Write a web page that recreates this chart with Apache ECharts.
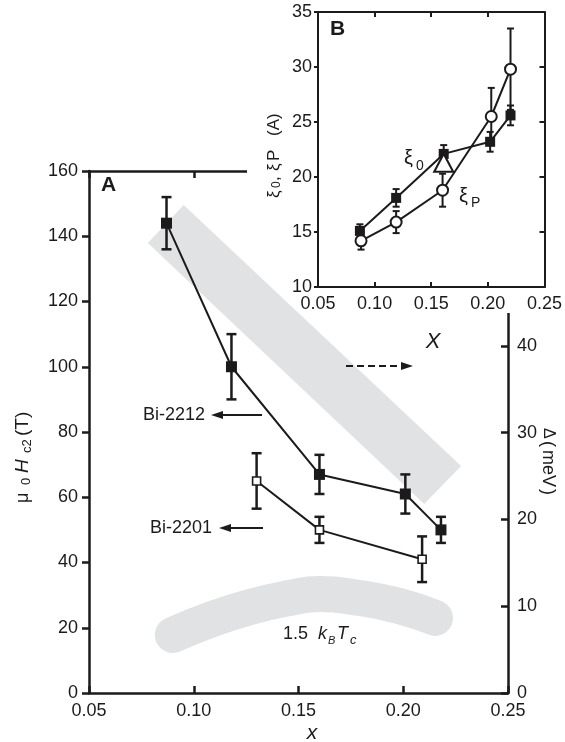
<!DOCTYPE html>
<html><head><meta charset="utf-8">
<script src="https://cdn.jsdelivr.net/npm/echarts@6/dist/echarts.min.js"></script>
<style>html,body{margin:0;padding:0;background:#fff}#c{width:565px;height:742px}</style>
</head><body><div id="c"></div>
<script>
// ---------- Panel A (main) ----------
const mainXTicks = [0.05, 0.10, 0.15, 0.20, 0.25];
const hc2LeftTicks = [0, 20, 40, 60, 80, 100, 120, 140, 160];
const gapRightTicks = [0, 10, 20, 30, 40];
// Bi-2212 (filled squares), mu0 Hc2 (T)
const bi2212X = [0.087, 0.118, 0.160, 0.201, 0.218];
const bi2212Y = [144, 100, 67, 61, 50];
const bi2212Err = [8, 10, 6, 6, 4];
// Bi-2201 (open squares)
const bi2201X = [0.130, 0.160, 0.209];
const bi2201Y = [65, 50, 41];
const bi2201Err = [8.5, 4, 7];
// Gap band (right axis, meV): upper edge and lower edge
const gapBandUpperX = [0.0952, 0.2276];
const gapBandUpperY = [56.25, 26.17];
const gapBandLowerX = [0.0781, 0.2100];
const gapBandLowerY = [51.87, 21.79];
// 1.5 kB Tc band (right axis, meV)
const kTcX = [0.090, 0.1076, 0.1267, 0.1457, 0.160, 0.179, 0.1981, 0.2152];
const kTcY = [6.69, 8.41, 9.91, 10.95, 11.41, 10.95, 10.03, 8.65];

// ---------- Panel B (inset) ----------
const insetXTicks = [0.05, 0.10, 0.15, 0.20, 0.25];
const insetYTicks = [10, 15, 20, 25, 30, 35];
const xi0X = [0.087, 0.119, 0.161, 0.202, 0.220];
const xi0Y = [15.1, 18.1, 22.1, 23.2, 25.6];
const xi0Err = [0.6, 0.8, 0.8, 0.9, 0.9];
const xiPX = [0.088, 0.119, 0.160, 0.203, 0.220];
const xiPY = [14.2, 15.9, 18.8, 25.5, 29.8];
const xiPErr = [0.8, 1.0, 1.5, 2.6, 3.7];
const triX = [0.161];
const triY = [21.3];

const INK = '#1c1a1b';
const GRAY = '#e1e2e4';
const FONT = '"Liberation Sans", Arial, Helvetica, sans-serif';

const zip2 = (xs, ys) => xs.map((x, i) => [x, ys[i]]);
const zip3 = (xs, ys, es) => xs.map((x, i) => [x, ys[i], es[i]]);

function errRender(capHalf, lw) {
  return function (params, api) {
    const x = api.value(0), y = api.value(1), e = api.value(2);
    const top = api.coord([x, y + e]), bot = api.coord([x, y - e]);
    const cx = top[0];
    const style = { stroke: INK, lineWidth: lw, fill: null };
    return { type: 'group', children: [
      { type: 'line', shape: { x1: cx, y1: top[1], x2: cx, y2: bot[1] }, style },
      { type: 'line', shape: { x1: cx - capHalf, y1: top[1], x2: cx + capHalf, y2: top[1] }, style },
      { type: 'line', shape: { x1: cx - capHalf, y1: bot[1], x2: cx + capHalf, y2: bot[1] }, style }
    ]};
  };
}

const fmt2 = v => v.toFixed(2);
const axisBase = (lw) => ({
  axisLine: { show: true, onZero: false, lineStyle: { color: INK, width: lw } },
  splitLine: { show: false },
  axisLabel: { color: INK, fontSize: 18, fontFamily: FONT },
});

const chart = echarts.init(document.getElementById('c'), null, { renderer: 'canvas' });

const bandPoly = [
  [gapBandLowerX[0], gapBandLowerY[0]],
  [gapBandUpperX[0], gapBandUpperY[0]],
  [gapBandUpperX[1], gapBandUpperY[1]],
  [gapBandLowerX[1], gapBandLowerY[1]]
];

function txt(x, y, text, size, opts) {
  return Object.assign({ type: 'text', x: x, y: y, z: 100, silent: true,
    style: Object.assign({ text: text, fontSize: size, fontFamily: FONT, fill: INK,
      textAlign: 'left', textVerticalAlign: 'middle' }, (opts && opts.style) || {}) },
    opts && opts.el || {});
}

const option = {
  animation: false,
  backgroundColor: '#fff',
  grid: [
    { left: 89, right: 57, top: 171, bottom: 49 },
    { left: 318, right: 11, top: 12, bottom: 455 }
  ],
  xAxis: [
    Object.assign(axisBase(2.5), { gridIndex: 0, type: 'value', position: 'bottom',
      min: mainXTicks[0], max: mainXTicks[mainXTicks.length - 1], interval: 0.05,
      axisTick: { show: true, inside: true, length: 7, lineStyle: { color: INK, width: 2.5 } },
      axisLabel: { color: INK, fontSize: 18, fontFamily: FONT, margin: 9, formatter: fmt2 } }),
    Object.assign(axisBase(2.5), { gridIndex: 0, type: 'value', position: 'top',
      min: mainXTicks[0], max: mainXTicks[mainXTicks.length - 1], interval: 0.05,
      axisTick: { show: true, inside: true, length: 7, lineStyle: { color: INK, width: 2.5 } },
      axisLabel: { show: false } }),
    Object.assign(axisBase(2), { gridIndex: 1, type: 'value', position: 'bottom', z: 60,
      min: insetXTicks[0], max: insetXTicks[insetXTicks.length - 1], interval: 0.05,
      axisTick: { show: true, inside: true, length: 5, lineStyle: { color: INK, width: 2 } },
      axisLabel: { color: INK, fontSize: 18, fontFamily: FONT, margin: 8, formatter: fmt2 } }),
    Object.assign(axisBase(2), { gridIndex: 1, type: 'value', position: 'top', z: 60,
      min: insetXTicks[0], max: insetXTicks[insetXTicks.length - 1], interval: 0.05,
      axisTick: { show: true, inside: true, length: 5, lineStyle: { color: INK, width: 2 } },
      axisLabel: { show: false } })
  ],
  yAxis: [
    Object.assign(axisBase(2.5), { gridIndex: 0, type: 'value', position: 'left',
      min: hc2LeftTicks[0], max: hc2LeftTicks[hc2LeftTicks.length - 1], interval: 20,
      axisTick: { show: true, inside: false, length: 7, lineStyle: { color: INK, width: 2.5 } },
      axisLabel: { color: INK, fontSize: 18, fontFamily: FONT, margin: 11 } }),
    Object.assign(axisBase(2.5), { gridIndex: 0, type: 'value', position: 'right',
      min: gapRightTicks[0], max: 60.17, interval: 10,
      axisTick: { show: true, inside: true, length: 7, lineStyle: { color: INK, width: 2.5 } },
      axisLabel: { color: INK, fontSize: 18, fontFamily: FONT, margin: 9 } }),
    Object.assign(axisBase(2), { gridIndex: 1, type: 'value', position: 'left', z: 60,
      min: insetYTicks[0], max: insetYTicks[insetYTicks.length - 1], interval: 5,
      axisTick: { show: true, inside: false, length: 4, lineStyle: { color: INK, width: 2 } },
      axisLabel: { color: INK, fontSize: 18, fontFamily: FONT, margin: 6 } }),
    Object.assign(axisBase(2), { gridIndex: 1, type: 'value', position: 'right', z: 60,
      min: insetYTicks[0], max: insetYTicks[insetYTicks.length - 1], interval: 5,
      axisTick: { show: true, inside: true, length: 5, lineStyle: { color: INK, width: 2 } },
      axisLabel: { show: false } })
  ],
  series: [
    { type: 'custom', xAxisIndex: 0, yAxisIndex: 1, z: 55, silent: true,
      data: [[0, 0]],
      renderItem: function (params, api) {
        const pts = bandPoly.map(p => api.coord(p));
        return { type: 'polygon', shape: { points: pts }, style: { fill: GRAY } };
      } },
    { type: 'line', xAxisIndex: 0, yAxisIndex: 1, z: 1, silent: true, smooth: 0.5,
      symbol: 'none', data: zip2(kTcX, kTcY),
      lineStyle: { color: GRAY, width: 36, cap: 'round', join: 'round' } },
    { type: 'custom', xAxisIndex: 0, yAxisIndex: 0, z: 56, silent: true,
      encode: { x: 0, y: 1 }, data: zip3(bi2212X, bi2212Y, bi2212Err), renderItem: errRender(5, 2.5) },
    { type: 'custom', xAxisIndex: 0, yAxisIndex: 0, z: 56, silent: true,
      encode: { x: 0, y: 1 }, data: zip3(bi2201X, bi2201Y, bi2201Err), renderItem: errRender(5, 2.5) },
    { type: 'line', xAxisIndex: 0, yAxisIndex: 0, z: 57, silent: true,
      data: zip2(bi2212X, bi2212Y), symbol: 'rect', symbolSize: 11, showAllSymbol: true,
      lineStyle: { color: INK, width: 2 }, itemStyle: { color: INK, borderColor: INK, borderWidth: 0 } },
    { type: 'line', xAxisIndex: 0, yAxisIndex: 0, z: 57, silent: true,
      data: zip2(bi2201X, bi2201Y), symbol: 'rect', symbolSize: 8, showAllSymbol: true,
      lineStyle: { color: INK, width: 2 }, itemStyle: { color: '#fff', borderColor: INK, borderWidth: 1.6 } },
    // inset
    { type: 'custom', xAxisIndex: 2, yAxisIndex: 2, z: 71, silent: true,
      encode: { x: 0, y: 1 }, data: zip3(xi0X, xi0Y, xi0Err), renderItem: errRender(3.5, 2) },
    { type: 'custom', xAxisIndex: 2, yAxisIndex: 2, z: 71, silent: true,
      encode: { x: 0, y: 1 }, data: zip3(xiPX, xiPY, xiPErr), renderItem: errRender(3.5, 2) },
    { type: 'line', xAxisIndex: 2, yAxisIndex: 2, z: 72, silent: true,
      data: zip2(xi0X, xi0Y), symbol: 'rect', symbolSize: 10, showAllSymbol: true,
      lineStyle: { color: INK, width: 2 }, itemStyle: { color: INK, borderWidth: 0 } },
    { type: 'line', xAxisIndex: 2, yAxisIndex: 2, z: 73, silent: true,
      data: zip2(xiPX, xiPY), symbol: 'circle', symbolSize: 11, showAllSymbol: true,
      lineStyle: { color: INK, width: 2 }, itemStyle: { color: '#fff', borderColor: INK, borderWidth: 2 } },
    { type: 'scatter', xAxisIndex: 2, yAxisIndex: 2, z: 74, silent: true,
      data: zip2(triX, triY), symbol: 'triangle', symbolSize: [19, 18],
      itemStyle: { color: '#ffffff', opacity: 1, borderColor: INK, borderWidth: 2 } }
  ],
  graphic: [
    // cover for the part of panel A's frame hidden behind inset B
    { type: 'rect', z: 50, silent: true, shape: { x: 247, y: 0, width: 318, height: 313 },
      style: { fill: '#fff' } },
    txt(101, 185, 'A', 21, { style: { fontWeight: 'bold' } }),
    txt(143, 415, 'Bi-2212', 18),
    { type: 'line', z: 100, shape: { x1: 262, y1: 415, x2: 218, y2: 415 }, style: { stroke: INK, lineWidth: 1.8 } },
    { type: 'polygon', z: 100, shape: { points: [[211, 415], [223, 411], [223, 419]] }, style: { fill: INK } },
    txt(150, 528, 'Bi-2201', 18),
    { type: 'line', z: 100, shape: { x1: 263, y1: 528, x2: 225, y2: 528 }, style: { stroke: INK, lineWidth: 1.8 } },
    { type: 'polygon', z: 100, shape: { points: [[219, 528], [231, 524], [231, 532]] }, style: { fill: INK } },
    { type: 'line', z: 100, shape: { x1: 346, y1: 366, x2: 403, y2: 366 },
      style: { stroke: INK, lineWidth: 1.8, lineDash: [7, 4] } },
    { type: 'polygon', z: 100, shape: { points: [[413, 366], [401, 362], [401, 370]] }, style: { fill: INK } },
    // 1.5 kB Tc
    txt(283, 634, '1.5', 18),
    txt(318, 634, 'k', 18, { style: { fontStyle: 'italic' } }),
    txt(328, 641, 'B', 11, { style: { fontStyle: 'italic' } }),
    txt(337, 634, 'T', 18, { style: { fontStyle: 'italic' } }),
    txt(350, 640, 'c', 13, { style: { fontStyle: 'italic' } }),
    // x label
    txt(312, 733, 'x', 21, { style: { fontStyle: 'italic', textAlign: 'center' } }),
    // left title
    { type: 'group', x: 23, y: 503, rotation: Math.PI / 2, z: 100, children: [
      txt(0, 0, 'μ', 18),
      txt(18, 3, '0', 13),
      txt(30, 0, 'H', 19, { style: { fontStyle: 'italic' } }),
      txt(50, 4, 'c2', 13),
      txt(67, 0, '(T)', 19)
    ] },
    // right title
    { type: 'group', x: 548, y: 428, rotation: -Math.PI / 2, z: 100, children: [
      txt(0, 0, 'Δ', 16),
      txt(13, 0, '(', 18),
      txt(22, 0, 'meV', 18),
      txt(61, 0, ')', 18)
    ] },
    // inset texts
    txt(330, 29, 'B', 21, { style: { fontWeight: 'bold' } }),
    txt(404, 158, 'ξ', 20),
    txt(416, 166, '0', 14),
    txt(459, 196, 'ξ', 20),
    txt(471, 203, 'P', 14),
    txt(433, 342, 'X', 22, { style: { fontStyle: 'italic', textAlign: 'center' } }),
    { type: 'group', x: 274, y: 198, rotation: Math.PI / 2, z: 100, children: [
      txt(0, 0, 'ξ', 17),
      txt(10, 3, '0', 12),
      txt(17, 0, ',', 17),
      txt(27, 0, 'ξ', 17),
      txt(37, 0, 'P', 17),
      txt(62, 0, '(A)', 17)
    ] }
  ]
};
chart.setOption(option);
</script>
</body></html>
